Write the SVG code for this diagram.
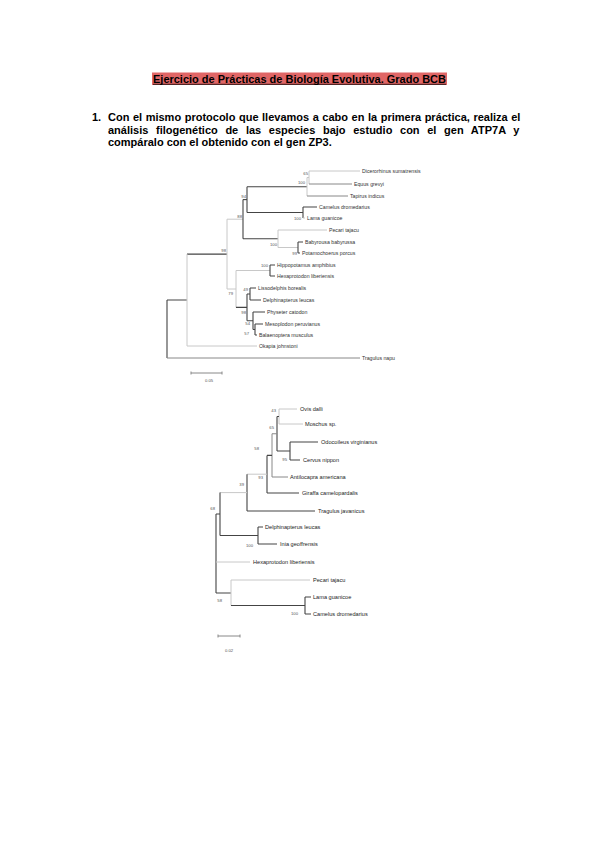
<svg xmlns="http://www.w3.org/2000/svg" width="600" height="848" viewBox="0 0 600 848">
<style>
.t{font-family:"Liberation Sans",Arial,sans-serif;font-weight:bold;font-size:11px;fill:#000}
.tx1{font-family:"Liberation Sans",Arial,sans-serif;font-size:5.2px;fill:#333}
.tx2{font-family:"Liberation Sans",Arial,sans-serif;font-size:5.6px;fill:#222}
.bs{font-family:"Liberation Sans",Arial,sans-serif;font-size:4.2px;fill:#555;text-anchor:end}
.d{stroke:#444;stroke-width:1.1;fill:none}
.m{stroke:#888;stroke-width:1;fill:none}
.l{stroke:#c8c8c8;stroke-width:1;fill:none}
</style>
<rect width="600" height="848" fill="#fff"/>
<g id="title">
<rect x="152" y="72.5" width="295" height="12.5" fill="#e06666"/>
<text class="t" x="153" y="82.5" textLength="293" lengthAdjust="spacingAndGlyphs" font-size="10.5">Ejercicio de Prácticas de Biología Evolutiva. Grado BCB</text>
<line x1="153" y1="84.3" x2="446" y2="84.3" stroke="#000" stroke-width="0.8"/>
</g>
<g id="question">
<text class="t" x="92" y="121">1.</text>
<text class="t" x="108" y="121" word-spacing="0.5">Con el mismo protocolo que llevamos a cabo en la primera práctica, realiza el</text>
<text class="t" x="108" y="133.5" word-spacing="4.6">análisis filogenético de las especies bajo estudio con el gen ATP7A y</text>
<text class="t" x="108" y="146">compáralo con el obtenido con el gen ZP3.</text>
</g>

<g id="tree1-connectors">
<path class="d" d="M167 300V358M167 300H187M187 254.1H227"/>
<path class="m" d="M167 358H360"/>
<path class="l" d="M187 254.1V346M187 346H257"/>
<path class="l" d="M227 219.2V289M227 219.2H243M227 289H236"/>
<path class="d" d="M243 199.6V238.75M243 238.75H278"/>
<path class="d" d="M247 186.75V212.5M247 186.75H307M247 212.5H303"/>
<path class="d" d="M243 199.6H247"/>
<path class="l" d="M307 177.5V196M307 177.5H309M309 171V184"/>
<path class="l" d="M309 171H360"/>
<path class="m" d="M309 184H352M307 196H348"/>
<path class="d" d="M303 207V218M303 207H317"/>
<path class="l" d="M303 218H305"/>
<path class="l" d="M278 230V247.5M278 230H327M278 247.5H298"/>
<path class="d" d="M298 242V253M298 242H303M298 253H300"/>
<path class="l" d="M236 270.5V307.4M236 270.5H270"/>
<path class="d" d="M270 265V276M270 265H275M270 276H275"/>
<path class="d" d="M236 307.4H247M247 294V320.75M247 294H250M250 288V300M250 288H256M250 300H261"/>
<path class="d" d="M247 320.75H253M253 312V329.5M253 312H265M253 329.5H255M255 324V335M255 324H263M255 335H257"/>
<path class="m" d="M191 373H222M191 371.5V374.5M222 371.5V374.5"/>
</g>
<g id="tree1-labels">
<text class="tx1" x="362" y="172.8">Dicerorhinus sumatrensis</text>
<text class="tx1" x="354" y="185.8">Equus grevyi</text>
<text class="tx1" x="350" y="197.8">Tapirus indicus</text>
<text class="tx1" x="319" y="208.8">Camelus dromedarius</text>
<text class="tx1" x="307" y="219.8">Lama guanicoe</text>
<text class="tx1" x="329" y="231.8">Pecari tajacu</text>
<text class="tx1" x="305" y="243.8">Babyrousa babyrussa</text>
<text class="tx1" x="302" y="254.8">Potamochoerus porcus</text>
<text class="tx1" x="277" y="266.8">Hippopotamus amphibius</text>
<text class="tx1" x="277" y="277.8">Hexaprotodon liberiensis</text>
<text class="tx1" x="258" y="289.8">Lissodelphis borealis</text>
<text class="tx1" x="263" y="301.8">Delphinapterus leucas</text>
<text class="tx1" x="267" y="313.8">Physeter catodon</text>
<text class="tx1" x="265" y="325.8">Mesoplodon peruvianus</text>
<text class="tx1" x="259" y="336.8">Balaenoptera musculus</text>
<text class="tx1" x="259" y="347.8">Okapia johnstoni</text>
<text class="tx1" x="362" y="359.8">Tragulus napu</text>
<text class="bs" x="308" y="175">65</text>
<text class="bs" x="305" y="183.5">100</text>
<text class="bs" x="246" y="198">94</text>
<text class="bs" x="301" y="220">100</text>
<text class="bs" x="242" y="218">88</text>
<text class="bs" x="277" y="246">100</text>
<text class="bs" x="297" y="255">99</text>
<text class="bs" x="268" y="267">100</text>
<text class="bs" x="226" y="252">98</text>
<text class="bs" x="233" y="295">79</text>
<text class="bs" x="248" y="291">49</text>
<text class="bs" x="246" y="314">98</text>
<text class="bs" x="250" y="325">54</text>
<text class="bs" x="249" y="335">57</text>
<text class="bs" x="209" y="382" style="text-anchor:middle">0.05</text>
</g>

<g id="tree2-connectors">
<path class="l" d="M279 409V424M279 409H297M279 424H303"/>
<path class="d" d="M277 416.5V451M277 416.5H279M277 451H290"/>
<path class="d" d="M290 442V460M290 442H318M290 460H300"/>
<path class="m" d="M272 433.75V477M272 433.75H277M272 477H288"/>
<path class="d" d="M267 455.4V493M267 455.4H272M267 493H299"/>
<path class="l" d="M247 474.2H267"/>
<path class="d" d="M247 474.2V511M247 511H315"/>
<path class="l" d="M220 492.6H247"/>
<path class="d" d="M220 492.6V535.5M220 535.5H258M258 527V544M258 527H263M258 544H277"/>
<path class="d" d="M216 514V593M216 514H220M216 593H231"/>
<path class="l" d="M216 562H250"/>
<path class="l" d="M231 580V605.5M231 580H310"/>
<path class="d" d="M231 605.5H305M305 597V614M305 597H311M305 614H311"/>
<path class="m" d="M218 636H240M218 634.5V637.5M240 634.5V637.5"/>
</g>
<g id="tree2-labels">
<text class="tx2" x="300" y="411">Ovis dalli</text>
<text class="tx2" x="305" y="426">Moschus sp.</text>
<text class="tx2" x="321" y="444">Odocoileus virginianus</text>
<text class="tx2" x="303" y="462">Cervus nippon</text>
<text class="tx2" x="290" y="479">Antilocapra americana</text>
<text class="tx2" x="302" y="495">Giraffa camelopardalis</text>
<text class="tx2" x="318" y="513">Tragulus javanicus</text>
<text class="tx2" x="265" y="529">Delphinapterus leucas</text>
<text class="tx2" x="280" y="546">Inia geoffrensis</text>
<text class="tx2" x="253" y="564">Hexaprotodon liberiensis</text>
<text class="tx2" x="313" y="582">Pecari tajacu</text>
<text class="tx2" x="313" y="599">Lama guanicoe</text>
<text class="tx2" x="313" y="616">Camelus dromedarius</text>
<text class="bs" x="276" y="412">43</text>
<text class="bs" x="274" y="429">65</text>
<text class="bs" x="287" y="461">95</text>
<text class="bs" x="259" y="450">58</text>
<text class="bs" x="263" y="479">93</text>
<text class="bs" x="244" y="486">39</text>
<text class="bs" x="253" y="547">100</text>
<text class="bs" x="215" y="510">68</text>
<text class="bs" x="298" y="615">100</text>
<text class="bs" x="222" y="602">58</text>
<text class="bs" x="229" y="652" style="text-anchor:middle">0.02</text>
</g>
</svg>
